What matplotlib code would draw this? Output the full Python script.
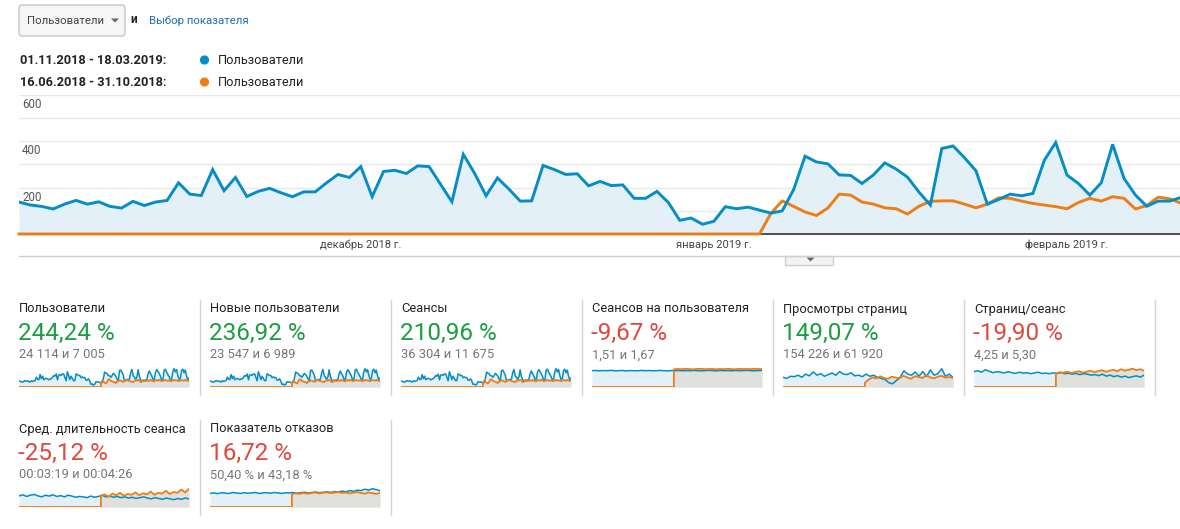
import matplotlib
matplotlib.use("Agg")
import matplotlib.pyplot as plt
from matplotlib.patches import Rectangle, FancyBboxPatch, Polygon, Circle
import numpy as np

plt.rcParams['font.family'] = ['Roboto', 'DejaVu Sans']

# ---------------- data ----------------
blue_label = "01.11.2018 - 18.03.2019:"
orange_label = "16.06.2018 - 31.10.2018:"
metric_name = "Пользователи"

# daily users, 01.11.2018 ... 11.02.2019 (visible part of main chart)
main_blue = [138, 125, 119, 108, 129, 145, 129, 139, 119, 112, 141, 123, 138, 145, 221, 172, 166, 278, 187, 244, 162,
             184, 197, 178, 161, 182, 182, 221, 257, 244, 291, 161, 270, 275, 261, 294, 291, 215, 139, 344, 261, 165,
             242, 194, 142, 143, 296, 278, 257, 260, 208, 227, 209, 212, 154, 154, 184, 136, 59, 69, 42, 55, 118,
             109, 116, 103, 90, 100, 192, 336, 311, 303, 255, 253, 218, 255, 307, 280, 245, 181, 125, 369, 380,
             329, 273, 129, 149, 172, 165, 175, 318, 395, 254, 218, 168, 221, 387, 240, 168, 120, 142, 142, 158]
main_orange = [0] * 66 + [89, 143, 119, 95, 80, 112, 172, 168, 138, 129, 113, 109, 86, 120, 141, 143, 143,
                          129, 113, 129, 156, 154, 142, 132, 125, 118, 109, 136, 154, 142, 161, 154, 108, 123, 159, 152, 133]
y_ticks = [200, 400, 600]
month_labels = ["декабрь 2018 г.", "январь 2019 г.", "февраль 2019 г."]
month_index = [30, 61, 92]

# tail of the period (12.02 - 18.03) seen only in the sparkline
users_blue_tail = [165, 290, 360, 300, 250, 170, 160, 330, 390, 350, 300, 240, 150, 170, 380, 400, 330, 280,
                   230, 160, 180, 350, 410, 340, 390, 260, 170, 190, 370, 400, 320, 380, 250, 160, 200]
users_orange_tail = [140, 150, 135, 160, 145, 130, 125, 150, 155, 140, 165, 150, 130, 135, 150, 160, 145, 140,
                     155, 135, 130, 150, 160, 145, 150, 140, 130, 145, 155, 150, 140, 160, 145, 135, 150]

# sparklines for the other metrics (relative height 0-100), 46 points over the period
pv_blue = [45, 40, 50, 48, 55, 45, 60, 52, 70, 55, 62, 50, 58, 65, 55, 72, 60, 58, 66, 52, 55, 48, 60, 50,
           55, 45, 40, 35, 20, 15, 30, 45, 75, 60, 55, 70, 50, 72, 48, 80, 55, 62, 85, 50, 60, 45]
pv_orange = [20, 35, 45, 40, 50, 42, 38, 48, 44, 40, 52, 45, 38, 50, 47, 42, 55, 45, 40, 48, 52, 44, 46, 42]
spu_blue = [1.50, 1.52, 1.49, 1.51, 1.50, 1.53, 1.49, 1.50, 1.52, 1.48, 1.51, 1.50, 1.49, 1.52, 1.50, 1.51,
            1.49, 1.50, 1.52, 1.50, 1.48, 1.51, 1.50, 1.52, 1.49, 1.51, 1.50, 1.52, 1.50, 1.49, 1.51, 1.53,
            1.50, 1.49, 1.52, 1.50, 1.51, 1.49, 1.52, 1.50, 1.51, 1.53, 1.50, 1.49, 1.51, 1.52]
spu_orange = [1.62, 1.66, 1.64, 1.67, 1.65, 1.63, 1.66, 1.68, 1.64, 1.65, 1.67, 1.63, 1.66, 1.64, 1.68, 1.65,
              1.63, 1.67, 1.65, 1.66, 1.64, 1.67, 1.65, 1.66]
pps_blue = [62, 66, 60, 70, 64, 58, 62, 60, 57, 62, 58, 55, 60, 56, 58, 54, 57, 60, 55, 56, 54, 57, 55, 58,
            54, 56, 52, 55, 50, 54, 52, 48, 50, 46, 52, 44, 48, 42, 46, 40, 44, 38, 42, 45, 40, 48]
pps_orange = [55, 60, 58, 62, 57, 60, 64, 58, 62, 66, 60, 64, 68, 62, 66, 70, 64, 72, 66, 70, 74, 68, 72, 66]
dur_blue = [55, 60, 52, 58, 62, 55, 50, 58, 54, 60, 52, 56, 50, 58, 54, 48, 52, 50, 46, 54, 48, 52, 58, 50,
            54, 48, 52, 46, 50, 44, 48, 42, 46, 50, 44, 40, 46, 42, 38, 44, 40, 36, 42, 38, 44, 40]
dur_orange = [55, 62, 50, 66, 58, 70, 56, 64, 60, 72, 58, 68, 62, 76, 60, 70, 66, 80, 64, 74, 70, 86, 72, 90]
br_blue = [58, 60, 57, 61, 59, 58, 62, 60, 58, 61, 59, 60, 62, 58, 60, 61, 59, 62, 60, 58, 61, 60, 62, 59,
           61, 63, 60, 62, 64, 61, 63, 65, 62, 66, 64, 68, 65, 70, 67, 72, 70, 76, 72, 78, 74, 70]
br_orange = [55, 58, 56, 60, 57, 59, 62, 58, 60, 63, 59, 61, 64, 60, 62, 58, 61, 64, 60, 57, 62, 59, 56, 60]

card_titles = ["Пользователи", "Новые пользователи", "Сеансы", "Сеансов на пользователя",
               "Просмотры страниц", "Страниц/сеанс", "Сред. длительность сеанса", "Показатель отказов"]
card_changes = ["244,24 %", "236,92 %", "210,96 %", "-9,67 %", "149,07 %", "-19,90 %", "-25,12 %", "16,72 %"]
card_values = ["24 114 и 7 005", "23 547 и 6 989", "36 304 и 11 675", "1,51 и 1,67",
               "154 226 и 61 920", "4,25 и 5,30", "00:03:19 и 00:04:26", "50,40 % и 43,18 %"]
card_positive = [True, True, True, False, True, False, False, False]

# ---------------- drawing ----------------
W, H = 1180, 529
fig = plt.figure(figsize=(11.8, 5.29), dpi=100)
fig.patch.set_facecolor('white')

BLUE = '#058dc7'
ORANGE = '#ed7e17'
BFILL = '#e4f0f7'
OFILL = '#e0e0dc'
GREEN = '#1a9e3f'
RED = '#e0483b'


def fx(x):
    return x / W


def fy(y):
    return 1 - y / H


# overlay axes in pixel coordinates for shapes and text
ov = fig.add_axes([0, 0, 1, 1])
ov.set_xlim(0, W)
ov.set_ylim(H, 0)
ov.axis('off')
ov.set_zorder(5)
ov.patch.set_alpha(0)


def ptext(x, y, s, **kw):
    ov.text(x, y, s, zorder=10, **kw)


# dropdown
ov.add_patch(FancyBboxPatch((19, 5), 106, 31, boxstyle="round,pad=0,rounding_size=3",
                            fc='#f6f6f6', ec='#c6c6c6', lw=1, zorder=1))
ptext(27, 20.5, metric_name, fontsize=8.2, color='#444444', va='center', ha='left')
ov.add_patch(Polygon([[111, 18.5], [119, 18.5], [115, 22.5]], closed=True, fc='#666666', ec='none', zorder=2))
ptext(130, 19.5, "и", fontsize=8.5, color='#222222', va='center', ha='left', fontweight='bold')
ptext(149, 20.5, "Выбор показателя", fontsize=8.2, color='#1f6fb5', va='center', ha='left')

# legend
for yy, lab, col in [(60, blue_label, BLUE), (82, orange_label, ORANGE)]:
    ptext(20, yy, lab, fontsize=9.2, color='#222222', va='center', ha='left', fontweight='bold')
    ov.add_patch(Circle((204.5, yy), 4.6, fc=col, ec='none'))
    ptext(218, yy, metric_name, fontsize=9.2, color='#222222', va='center', ha='left')

# main chart
ax = fig.add_axes([fx(19), fy(234), (1181 - 19) / W, (234 - 95) / H])
x = np.arange(len(main_blue))
ax.set_xlim(0, len(main_blue) - 1)
ax.set_ylim(0, 600)
for v in range(100, 601, 100):
    ax.axhline(v, color='#e9e9e9', lw=1, zorder=0)
ax.fill_between(x, main_blue, 0, color=BFILL, lw=0, zorder=1)
ax.axhline(0, color='#333333', lw=1.2, zorder=2, clip_on=False)
ax.plot(x, main_blue, color=BLUE, lw=2.1, zorder=4, solid_joinstyle='miter')
ax.plot(x, main_orange[:len(main_blue)], color=ORANGE, lw=2.1, zorder=3, clip_on=False)
for s in ax.spines.values():
    s.set_visible(False)
ax.set_xticks([])
ax.set_yticks([])
ax.patch.set_alpha(0)

for t in y_ticks:
    ypix = 234 - t * (139 / 600) + 9.5
    ptext(22, ypix, str(t), fontsize=8.3, color='#555555', va='center', ha='left')
for lab, idx in zip(month_labels, month_index):
    xpix = 19 + idx * (1162 / (len(main_blue) - 1))
    ptext(xpix, 245, lab, fontsize=8, color='#444444', va='center', ha='center')

# bottom line + collapse tab
ov.plot([19, 1180], [255.5, 255.5], color='#cfcfcf', lw=1)
ov.add_patch(Rectangle((785, 255.5), 48, 9, fc='#f3f3f3', ec='#cfcfcf', lw=1))
ov.add_patch(Polygon([[806.5, 257.5], [814.5, 257.5], [810.5, 261.5]], closed=True, fc='#666666', ec='none'))

# scorecards
users_blue = main_blue + users_blue_tail
users_orange = main_orange[66:] + users_orange_tail
ndays = len(users_blue)
o_start = 66 / (ndays - 1)

spark = [
    (users_blue, users_orange),
    (users_blue, users_orange),
    (users_blue, users_orange),
    (spu_blue, spu_orange),
    (pv_blue, pv_orange),
    (pps_blue, pps_orange),
    (dur_blue, dur_orange),
    (br_blue, br_orange),
]

for i in range(8):
    row, col = divmod(i, 6)
    cx = 19 + 191 * col
    cy = 300 + 120 * row
    ptext(cx, cy + 9, card_titles[i], fontsize=9.3, color='#222222', va='center', ha='left')
    ptext(cx - 1, cy + 33, card_changes[i], fontsize=17.5, color=GREEN if card_positive[i] else RED,
          va='center', ha='left')
    ptext(cx, cy + 55, card_values[i], fontsize=9.3, color='#757575', va='center', ha='left')
    b, o = spark[i]
    sx = fig.add_axes([fx(cx), fy(cy + 87), 170 / W, 19 / H])
    xb = np.linspace(0, 1, len(b))
    xo = np.concatenate([[0, o_start], np.linspace(o_start, 1, len(o))])
    yo = np.concatenate([[0, 0], o])
    top = max(max(b), max(o)) * 1.04
    sx.set_xlim(0, 1)
    sx.set_ylim(0, top)
    sx.fill_between(xb, b, 0, color=BFILL, lw=0)
    sx.fill_between(xo, yo, 0, color=OFILL, lw=0)
    sx.plot(xb, b, color=BLUE, lw=1.1)
    sx.plot(xo, yo, color=ORANGE, lw=1.3)
    sx.axis('off')

for row, ncols in [(0, 6), (1, 2)]:
    for col in range(ncols):
        xs = 200 + 191 * col
        ov.plot([xs, xs], [300 + 120 * row, 395 + 120 * row], color='#d4d4d4', lw=1)

fig.savefig("out.png", dpi=100, facecolor='white')
